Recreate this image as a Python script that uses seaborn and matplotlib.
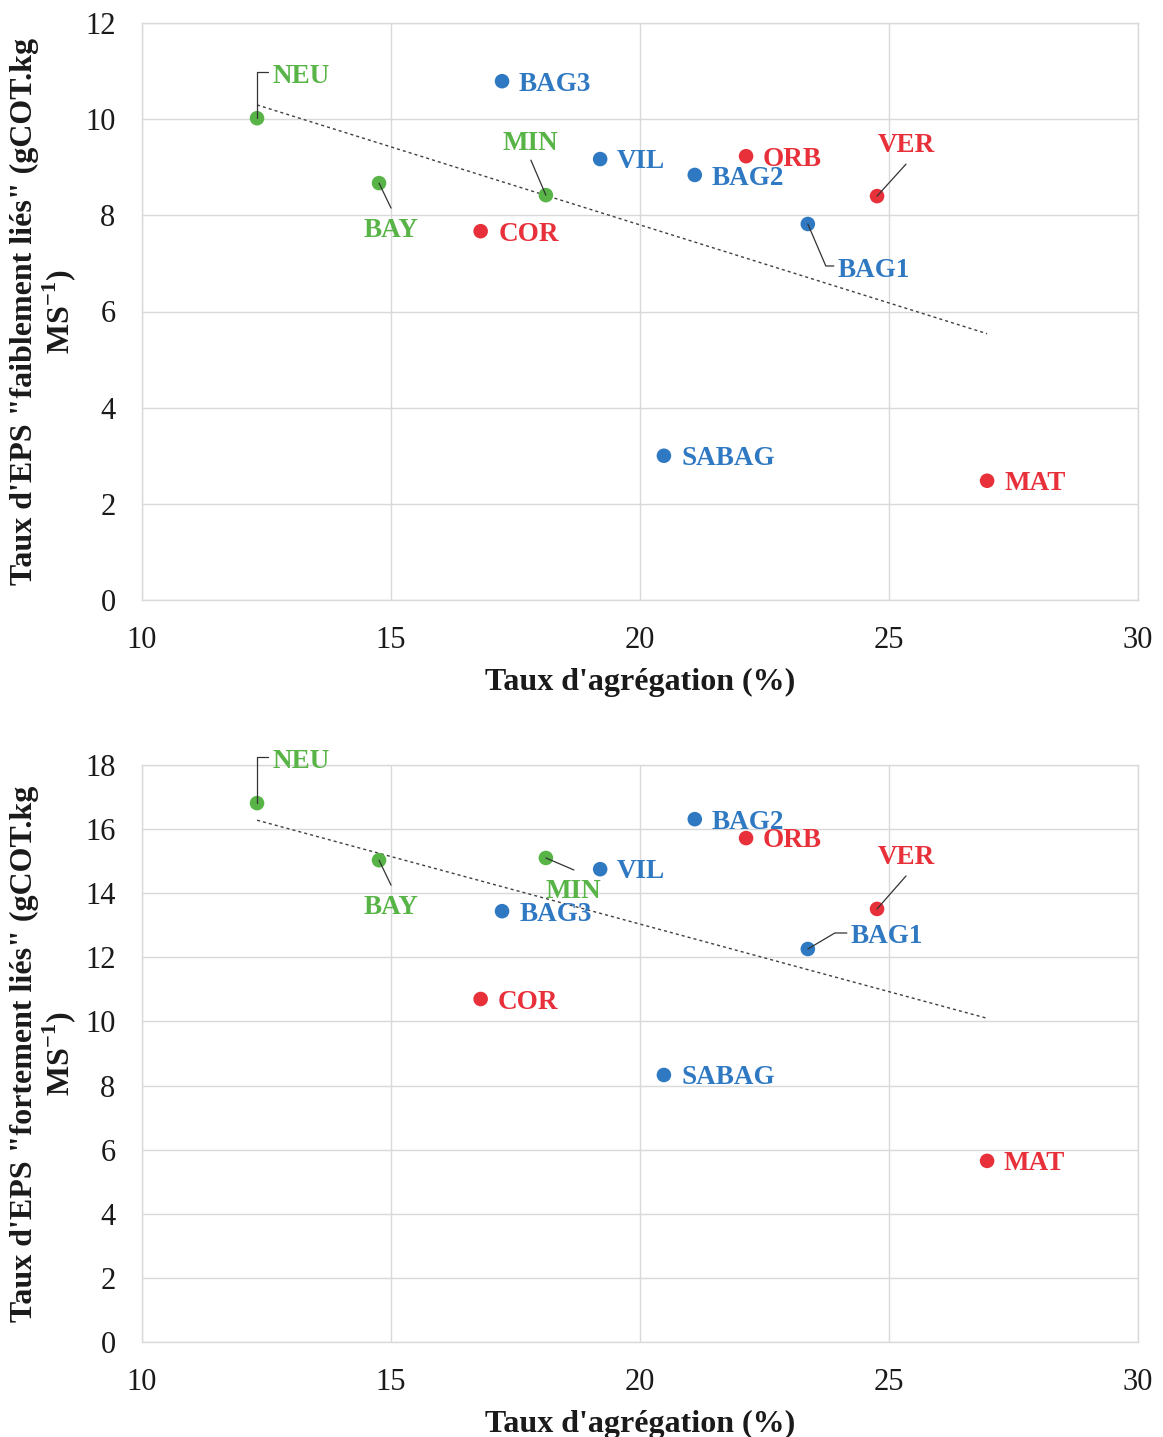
import numpy as np
import pandas as pd
import matplotlib
matplotlib.use("Agg")
import matplotlib.pyplot as plt
import seaborn as sns

# ---------------- data ----------------
sites = ["NEU", "BAY", "MIN", "COR", "BAG3", "VIL", "BAG2", "ORB", "VER", "BAG1", "SABAG", "MAT"]
groups = ["g", "g", "g", "r", "b", "b", "b", "r", "r", "b", "b", "r"]
aggregation = [12.31, 14.76, 18.11, 16.80, 17.23, 19.20, 21.10, 22.13, 24.76, 23.37, 20.48, 26.97]
eps_faible = [10.02, 8.67, 8.42, 7.67, 10.79, 9.17, 8.84, 9.23, 8.40, 7.82, 3.00, 2.48]
eps_fort = [16.81, 15.03, 15.10, 10.70, 13.44, 14.75, 16.31, 15.72, 13.51, 12.26, 8.33, 5.65]

xticks = [10, 15, 20, 25, 30]
yticks_top = [0, 2, 4, 6, 8, 10, 12]
yticks_bot = [0, 2, 4, 6, 8, 10, 12, 14, 16, 18]

xlabel = "Taux d'agrégation (%)"
ylabel_top = 'Taux d\'EPS "faiblement liés" (gCOT.kg\nMS$^{\\mathbf{-1}}$)'
ylabel_bot = 'Taux d\'EPS "fortement liés" (gCOT.kg\nMS$^{\\mathbf{-1}}$)'

palette = {"g": "#58B447", "b": "#2F78C2", "r": "#E8303A"}

# label placement (pixel offsets from the point) and optional leader polyline
lab_top = {
    "NEU": (15, 44, "left", [(0, 0), (0, 46), (11, 46)]),
    "BAY": (12, -45, "center", [(0, 0), (12, -25)]),
    "MIN": (-16, 54, "center", [(0, 0), (-15, 35)]),
    "COR": (18, -1, "left", None),
    "BAG3": (17, -1, "left", None),
    "VIL": (17, 0, "left", None),
    "BAG2": (17, -1, "left", None),
    "ORB": (17, -1, "left", None),
    "VER": (29, 53, "center", [(0, 0), (29, 32)]),
    "BAG1": (30, -44, "left", [(0, 0), (18, -42), (26, -42)]),
    "SABAG": (18, 0, "left", None),
    "MAT": (17, 0, "left", None),
}
lab_bot = {
    "NEU": (15, 44, "left", [(0, 0), (0, 46), (11, 46)]),
    "BAY": (12, -45, "center", [(0, 0), (12, -25)]),
    "MIN": (27, -31, "center", [(0, 0), (28, -12)]),
    "COR": (17, -1, "left", None),
    "BAG3": (18, -1, "left", None),
    "VIL": (17, 0, "left", None),
    "BAG2": (17, -1, "left", None),
    "ORB": (17, 0, "left", None),
    "VER": (29, 54, "center", [(0, 0), (29, 33)]),
    "BAG1": (43, 15, "left", [(0, 0), (27, 16), (39, 16)]),
    "SABAG": (18, 0, "left", None),
    "MAT": (16, 0, "left", None),
}
TEXT_SHIFT = -2.5  # fine vertical tweak for label baseline

# ---------------- style ----------------
sns.set_theme(style="white")
plt.rcParams["font.family"] = ["Liberation Serif", "DejaVu Serif"]
plt.rcParams["mathtext.fontset"] = "custom"
plt.rcParams["mathtext.rm"] = "Liberation Serif"
plt.rcParams["mathtext.bf"] = "Liberation Serif:bold"

df = pd.DataFrame({"site": sites, "grp": groups, "x": aggregation,
                   "faible": eps_faible, "fort": eps_fort})

fig = plt.figure(figsize=(11.63, 14.37), dpi=100)
W, H = 1163, 1437
ax1 = fig.add_axes([142 / W, 1 - 600 / H, 996 / W, 577 / H])
ax2 = fig.add_axes([142 / W, 1 - 1342 / H, 996 / W, 577 / H])


def draw(ax, ycol, yticks, ylab, labs):
    sns.regplot(data=df, x="x", y=ycol, ax=ax, scatter=False, ci=None, truncate=True,
                line_kws=dict(color="#404040", lw=1.0, ls=(0, (2.2, 2.2))))
    sns.scatterplot(data=df, x="x", y=ycol, hue="grp", palette=palette, ax=ax,
                    s=110, edgecolor="none", legend=False, zorder=3)
    ax.set_xlim(xticks[0], xticks[-1])
    ax.set_ylim(yticks[0], yticks[-1])
    ax.set_xticks(xticks)
    ax.set_yticks(yticks)
    ax.grid(True, color="#D9D9D9", lw=1.0)
    ax.set_axisbelow(True)
    for sp in ax.spines.values():
        sp.set_color("#D9D9D9")
        sp.set_linewidth(1.0)
    ax.tick_params(axis="both", length=0, labelsize=22, pad=19, labelcolor="#1a1a1a")
    ax.set_xlabel(xlabel, fontsize=23, fontweight="bold", labelpad=9, color="#1a1a1a")
    ax.set_ylabel(ylab, fontsize=23, fontweight="bold", color="#1a1a1a", linespacing=1.05)
    ax.yaxis.label.set_verticalalignment("center")
    ax.yaxis.set_label_coords(-98 / 996, 0.5)
    for _, row in df.iterrows():
        dx, dy, ha, leader = labs[row.site]
        col = palette[row.grp]
        ax.annotate(row.site, xy=(row.x, row[ycol]), xytext=(dx, dy + TEXT_SHIFT),
                    textcoords="offset pixels", ha=ha, va="center",
                    fontsize=19.5, fontweight="bold", color=col, zorder=4)
        if leader is not None:
            px, py = ax.transData.transform((row.x, row[ycol]))
            pts = np.array([ax.transData.inverted().transform((px + a, py + b))
                            for a, b in leader])
            ax.plot(pts[:, 0], pts[:, 1], color="#333333", lw=0.9, zorder=3.5,
                    clip_on=False)


fig.canvas.draw()
draw(ax1, "faible", yticks_top, ylabel_top, lab_top)
draw(ax2, "fort", yticks_bot, ylabel_bot, lab_bot)

fig.savefig("out.png", dpi=100, facecolor="white")
